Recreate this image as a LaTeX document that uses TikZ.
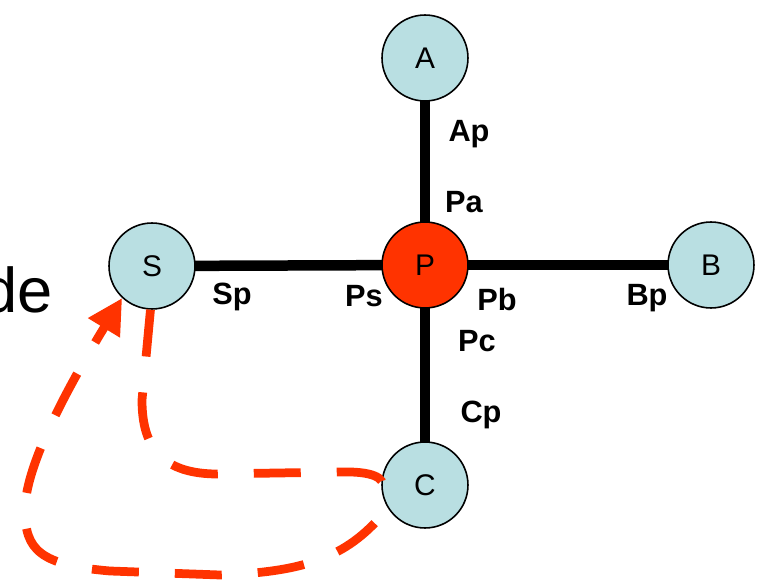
\documentclass[tikz,border=0pt]{standalone}
\usepackage{fontspec}
\setmainfont{Liberation Sans}
\usetikzlibrary{arrows.meta,backgrounds}
\definecolor{nodefill}{HTML}{B9DFE2}
\definecolor{hot}{HTML}{FF3300}
\tikzset{
  vert/.style={circle,draw=black,line width=0.9pt,fill=nodefill,minimum size=1.72cm,inner sep=0pt,font=\fontsize{17}{20}\selectfont},
  hotvert/.style={vert,fill=hot},
  link/.style={line width=0.21cm,draw=black},
  lab/.style={font=\fontsize{17.5}{20}\selectfont\bfseries,inner sep=0pt,anchor=base},
  reddash/.style={draw=hot,line width=0.175cm,dash pattern=on 0.94cm off 0.72cm},
  big/.style={font=\fontsize{36}{43}\selectfont,inner sep=0pt,anchor=base west}
}
\begin{document}
\begin{tikzpicture}[x=0.02cm,y=-0.02cm]
\useasboundingbox (0,0) rectangle (762,584);
\node[vert] (A) at (425,58) {A};
\node[hotvert] (P) at (425,265) {P};
\node[vert] (S) at (152,266) {S};
\node[vert] (B) at (711,265) {B};
\node[vert] (C) at (425,485) {C};
\begin{scope}[on background layer]
\draw[link] (A.center) -- (P.center);
\draw[link] (S.center) -- (P.center);
\draw[link] (P.center) -- (B.center);
\draw[link] (P.center) -- (C.center);
\end{scope}
\node[lab] (ap) at (469,142) {Ap};
\node[lab] (pa) at (464,213) {Pa};
\node[lab] (sp) at (232,305) {Sp};
\node[lab] (ps) at (364,307) {Ps};
\node[lab] (pb) at (497,311) {Pb};
\node[lab] (bp) at (647,306) {Bp};
\node[lab] (pc) at (477,352) {Pc};
\node[lab] (cp) at (481,423) {Cp};
\node[big] (de) at (-18,313) {de};
% dashed path S -> C
\draw[reddash] (S.268) -- (142,400) .. controls (142,445) and (160,473) .. (215,474)
  -- (340,472) .. controls (372,471) and (386,478) .. (C.183);
% dashed path C -> S with arrow
\draw[reddash,dash phase=1.26cm,-{Triangle[length=0.7cm,width=0.7cm]}] (C.212) .. controls (350,555) and (310,572) .. (220,575)
  -- (110,571) .. controls (40,565) and (25,550) .. (25,510)
  .. controls (25,470) and (60,400) .. (S.227);
\end{tikzpicture}
\end{document}
